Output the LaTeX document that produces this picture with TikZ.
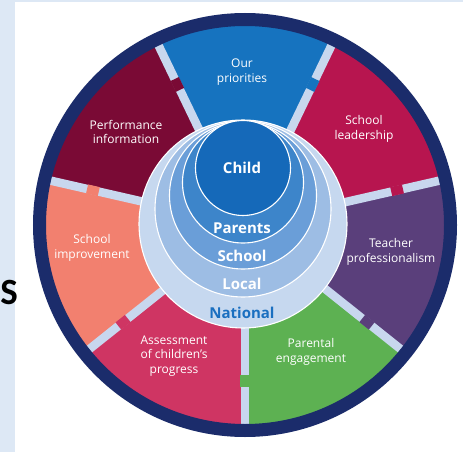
\documentclass[tikz,border=0pt]{standalone}
\usepackage{fontspec}
\setmainfont{Open Sans}
\newfontfamily\bigsfont{Carlito}
\usetikzlibrary{calc}
\definecolor{navy}{HTML}{1B2C6B}
\definecolor{divblue}{HTML}{C8D7EE}
\definecolor{cgreen}{HTML}{5DB152}
\definecolor{cpurple}{HTML}{5A3F7B}
\definecolor{ccrimson}{HTML}{B7154F}
\definecolor{cblue}{HTML}{1673BF}
\definecolor{cmaroon}{HTML}{7A0A35}
\definecolor{csalmon}{HTML}{F2806F}
\definecolor{cpink}{HTML}{CF3563}
\definecolor{strip}{HTML}{DDE8F5}
\definecolor{hnat}{HTML}{C6D8EF}
\definecolor{hloc}{HTML}{9DBDE4}
\definecolor{hsch}{HTML}{6A9ED8}
\definecolor{hpar}{HTML}{3D85CA}
\definecolor{hchi}{HTML}{1569B9}
\definecolor{nattext}{HTML}{1A6FC0}
\tikzset{
  lbl/.style={text=white, font=\fontsize{12}{14.5}\selectfont, align=center, inner sep=0pt},
  hublbl/.style={text=white, font=\bfseries\fontsize{15}{17}\selectfont, inner sep=0pt},
  hubring/.style={draw=white, line width=1.1pt},
  divider/.style={line width=8.5pt, divblue}
}
\begin{document}
\begin{tikzpicture}[x=1pt,y=1pt]
\useasboundingbox (0,0) rectangle (463,-452);
\fill[white] (0,0) rectangle (463,-452);
\fill[strip] (0,0) rectangle (15,-452);
\fill[strip] (0,0) rectangle (463,-2);
\coordinate (C) at (245,-225);
% sectors, counter-clockwise from the bottom
\foreach \k/\col in {0/cgreen,1/cpurple,2/ccrimson,3/cblue,4/cmaroon,5/csalmon,6/cpink}{
  \pgfmathsetmacro{\a}{270+\k*360/7}
  \pgfmathsetmacro{\b}{\a+360/7}
  \fill[\col] (C) -- ($(C)+(\a:201)$) arc[start angle=\a, end angle=\b, radius=201] -- cycle;
}
% dividers with a bridge of the next sector's colour
\foreach \k/\col in {0/cgreen,1/cpurple,2/ccrimson,3/cblue,4/cmaroon,5/csalmon,6/cpink}{
  \pgfmathsetmacro{\a}{270+\k*360/7}
  \draw[divider] ($(C)+(\a:95)$) -- ($(C)+(\a:200)$);
  \draw[line width=9.2pt, \col] ($(C)+(\a:150)$) -- ($(C)+(\a:162)$);
}
% outer ring
\draw[navy, line width=13pt] (C) circle[radius=205.5];
% hub
\filldraw[hubring, fill=hnat] (243,-224) circle[radius=104];
\filldraw[hubring, fill=hloc] (243,-209) circle[radius=88];
\filldraw[hubring, fill=hsch] (243,-195.5) circle[radius=73.5];
\filldraw[hubring, fill=hpar] (243,-182.5) circle[radius=60.5];
\filldraw[hubring, fill=hchi] (243,-168) circle[radius=47.5];
% hub labels
\node[hublbl] (child) at (242,-168) {Child};
\node[hublbl] (parents) at (242,-228) {Parents};
\node[hublbl] (school) at (242,-256) {School};
\node[hublbl] (local) at (242,-284) {Local};
\node[hublbl, text=nattext] (national) at (242,-313) {National};
% sector labels
\node[lbl] (prio) at (242,-72) {Our\\priorities};
\node[lbl] (perf) at (126,-132) {Performance\\information};
\node[lbl] (lead) at (364,-129) {School\\leadership};
\node[lbl] (impr) at (92,-248) {School\\improvement};
\node[lbl] (teach) at (391,-252) {Teacher\\professionalism};
\node[lbl] (assess) at (174,-356) {Assessment\\of children’s\\progress};
\node[lbl] (parent) at (311,-352) {Parental\\engagement};
% stray letter at left edge
\node[inner sep=0pt, font=\bigsfont\bfseries\fontsize{37}{37}\selectfont, text=black] (s) at (9,-292) {S};
\end{tikzpicture}
\end{document}
